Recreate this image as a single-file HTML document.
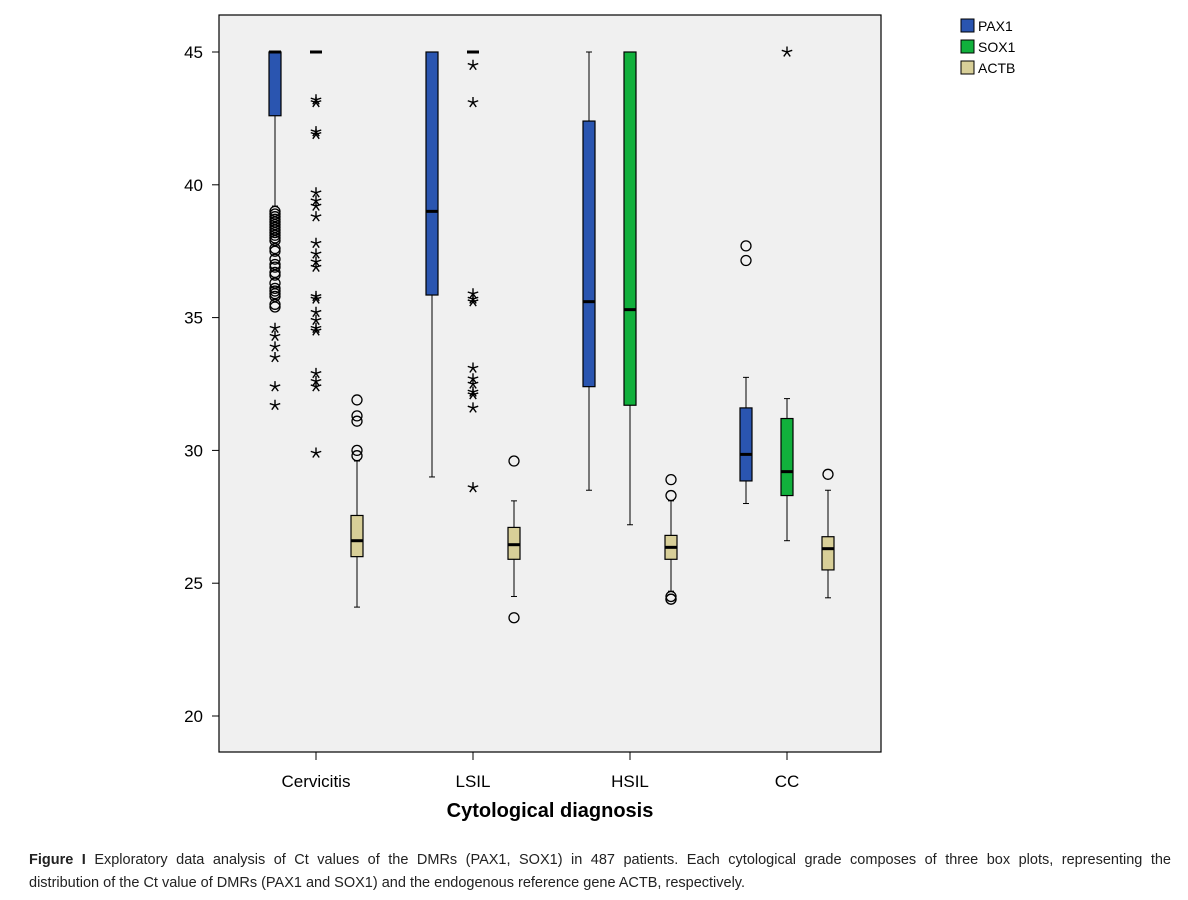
<!DOCTYPE html>
<html><head><meta charset="utf-8">
<style>
body{margin:0;background:#fff;width:1188px;height:900px;overflow:hidden;font-family:"Liberation Sans",sans-serif;}
#cap{position:absolute;left:29px;top:849px;width:1142px;font-size:14.5px;line-height:23px;color:#222;}
#cap .l1{display:block;text-align:justify;text-align-last:justify;}
</style></head><body>
<svg id="chart" width="1188" height="850" style="position:absolute;left:0;top:0" xmlns="http://www.w3.org/2000/svg">
<rect x="219" y="15" width="662" height="737" fill="#f0f0f0" stroke="#000" stroke-width="1.2"/>
<g id="marks"></g>
<g id="axes"></g>
<text x="550" y="817" text-anchor="middle" font-size="20" font-weight="bold">Cytological diagnosis</text>
<g font-size="14">
<rect x="961" y="19" width="13" height="13" fill="#2a55b0" stroke="#000"/><text x="978" y="31">PAX1</text>
<rect x="961" y="40" width="13" height="13" fill="#11b03c" stroke="#000"/><text x="978" y="52">SOX1</text>
<rect x="961" y="61" width="13" height="13" fill="#d8cf98" stroke="#000"/><text x="978" y="73">ACTB</text>
</g>
</svg>
<div id="cap"><span class="l1"><b>Figure I</b> Exploratory data analysis of Ct values of the DMRs (PAX1, SOX1) in 487 patients. Each cytological grade composes of three box plots, representing the</span>distribution of the Ct value of DMRs (PAX1 and SOX1) and the endogenous reference gene ACTB, respectively.</div>
<script>
const categories=["Cervicitis","LSIL","HSIL","CC"];
const series=["PAX1","SOX1","ACTB"];
const colors=["#2a55b0","#11b03c","#d8cf98"];
const yTicks=[20,25,30,35,40,45];
// [whiskerLow, q1, median, q3, whiskerHigh] per category per series
const pax1Box=[[39.2,42.6,45,45,45],[29,35.85,39,45,45],[28.5,32.4,35.6,42.4,45],[28.0,28.85,29.85,31.6,32.75]];
const sox1Box=[[45,45,45,45,45],[45,45,45,45,45],[27.2,31.7,35.3,45,45],[26.6,28.3,29.2,31.2,31.95]];
const actbBox=[[24.1,26.0,26.6,27.55,29.6],[24.5,25.9,26.45,27.1,28.1],[24.7,25.9,26.35,26.8,28.1],[24.45,25.5,26.3,26.75,28.5]];
const pax1Circles=[[39,38.9,38.8,38.7,38.6,38.5,38.4,38.3,38.2,38.1,38,37.9,37.6,37.5,37.2,37,36.9,36.7,36.6,36.3,36.1,36,35.9,35.8,35.5,35.4],[],[],[37.7,37.15]];
const pax1Stars=[[34.6,34.3,33.9,33.5,32.4,31.7],[],[],[]];
const sox1Circles=[[],[],[],[]];
const sox1Stars=[[43.2,43.1,42,41.9,39.7,39.4,39.2,38.8,37.8,37.4,37.1,36.9,35.8,35.7,35.2,34.9,34.6,34.5,32.9,32.6,32.4,29.9],[44.5,43.1,35.9,35.7,35.6,33.1,32.7,32.5,32.2,32.1,31.6,28.6],[],[45]];
const actbCircles=[[29.8,30,31.1,31.3,31.9],[29.6,23.7],[28.9,28.3,24.5,24.4,24.4],[29.1]];
const actbStars=[[],[],[],[]];

const boxes=[pax1Box,sox1Box,actbBox],circles=[pax1Circles,sox1Circles,actbCircles],stars=[pax1Stars,sox1Stars,actbStars];
const NS="http://www.w3.org/2000/svg";
const y=v=>52+(45-v)*26.56;
const xCat=i=>316+i*157;
const xSer=(i,s)=>xCat(i)+(s-1)*41;
const marks=document.getElementById('marks'),axes=document.getElementById('axes');
function mk(tag,attrs,parent){const e=document.createElementNS(NS,tag);for(const k in attrs)e.setAttribute(k,attrs[k]);parent.appendChild(e);return e;}
function starPath(cx,cy,r){let d='';for(let k=0;k<5;k++){const a=-Math.PI/2+k*2*Math.PI/5;d+='M'+cx+' '+cy+'L'+(cx+r*Math.cos(a)).toFixed(2)+' '+(cy+r*Math.sin(a)).toFixed(2);}return d;}
yTicks.forEach(t=>{
  const l=mk('line',{x1:212,x2:219,y1:y(t),y2:y(t),stroke:'#000'},axes);
  
  
  const tx=mk('text',{x:203,y:y(t)+6,'text-anchor':'end','font-size':17},axes);tx.textContent=t;
  
  
});
categories.forEach((c,i)=>{
  const l=mk('line',{x1:xCat(i),x2:xCat(i),y1:752,y2:760,stroke:'#000'},axes);
  
  
  const tx=mk('text',{x:xCat(i),y:787,'text-anchor':'middle','font-size':17},axes);tx.textContent=c;
  
  
  series.forEach((s,si)=>{
    const b=boxes[si][i],x=xSer(i,si),w=12;
    const g=mk('g',{},marks);
    
    
    mk('line',{x1:x,x2:x,y1:y(b[0]),y2:y(b[1]),stroke:'#000'},g);
    mk('line',{x1:x,x2:x,y1:y(b[3]),y2:y(b[4]),stroke:'#000'},g);
    mk('line',{x1:x-3,x2:x+3,y1:y(b[0]),y2:y(b[0]),stroke:'#000'},g);
    mk('line',{x1:x-3,x2:x+3,y1:y(b[4]),y2:y(b[4]),stroke:'#000'},g);
    if(b[3]>b[1]) mk('rect',{x:x-w/2,y:y(b[3]),width:w,height:y(b[1])-y(b[3]),fill:colors[si],stroke:'#000','stroke-width':1.2},g);
    mk('line',{x1:x-w/2,x2:x+w/2,y1:y(b[2]),y2:y(b[2]),stroke:'#000','stroke-width':3},g);
    circles[si][i].forEach(v=>{
      const ci=mk('circle',{cx:x,cy:y(v),r:5,fill:'none',stroke:'#000','stroke-width':1.3},g);
      
      
    });
    stars[si][i].forEach(v=>{
      const st=mk('path',{d:starPath(x,y(v),5.5),stroke:'#000','stroke-width':1.4,fill:'none'},g);
      
      
    });
  });
});
</script>
</body></html>
